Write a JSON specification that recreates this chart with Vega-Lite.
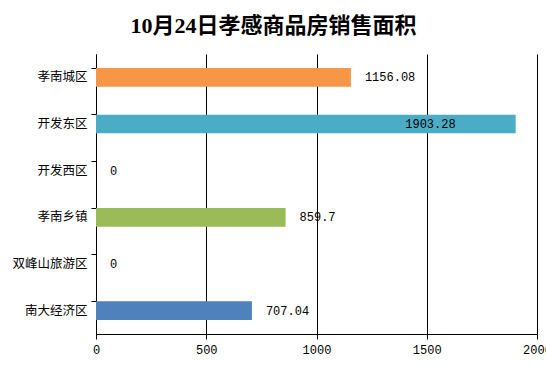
{
  "$schema": "https://vega.github.io/schema/vega-lite/v6.json",
  "autosize": "none",
  "padding": {"left": 96, "top": 54, "right": 9, "bottom": 35},
  "width": 441,
  "height": 280,
  "background": "white",
  "title": {
    "text": "10月24日孝感商品房销售面积",
    "font": "Liberation Serif, Noto Sans CJK SC",
    "fontSize": 22,
    "fontWeight": "bold",
    "color": "#000000",
    "anchor": "middle",
    "dx": -43,
    "offset": 16
  },
  "data": {
    "values": [
      {"区域": "孝南城区", "面积": 1156.08, "标签": "1156.08"},
      {"区域": "开发东区", "面积": 1903.28, "标签": "1903.28"},
      {"区域": "开发西区", "面积": 0, "标签": "0"},
      {"区域": "孝南乡镇", "面积": 859.7, "标签": "859.7"},
      {"区域": "双峰山旅游区", "面积": 0, "标签": "0"},
      {"区域": "南大经济区", "面积": 707.04, "标签": "707.04"}
    ]
  },
  "encoding": {
    "y": {
      "field": "区域",
      "type": "nominal",
      "sort": null,
      "scale": {"paddingInner": 0.6, "paddingOuter": 0.3},
      "axis": {
        "title": null,
        "bandPosition": 0,
        "domainColor": "#000000",
        "domainWidth": 1,
        "tickColor": "#000000",
        "tickSize": 5,
        "labelFont": "Noto Sans CJK SC",
        "labelFontSize": 12.5,
        "labelColor": "#000000",
        "labelPadding": 4
      }
    },
    "x": {
      "field": "面积",
      "type": "quantitative",
      "scale": {"domain": [0, 2000]},
      "axis": {
        "title": null,
        "values": [0, 500, 1000, 1500, 2000],
        "format": "d",
        "grid": true,
        "gridColor": "#000000",
        "gridOpacity": 1,
        "gridWidth": 1,
        "domainColor": "#000000",
        "tickColor": "#000000",
        "tickSize": 5,
        "labelFont": "Liberation Mono",
        "labelFontSize": 12,
        "labelColor": "#000000",
        "labelPadding": 5,
        "labelFlush": false
      }
    }
  },
  "layer": [
    {
      "mark": {"type": "bar"},
      "encoding": {
        "color": {
          "field": "区域",
          "type": "nominal",
          "legend": null,
          "scale": {
            "domain": ["孝南城区", "开发东区", "开发西区", "孝南乡镇", "双峰山旅游区", "南大经济区"],
            "range": ["#F79646", "#4BACC6", "#4BACC6", "#9BBB59", "#9BBB59", "#4F81BD"]
          }
        }
      }
    },
    {
      "transform": [{"filter": "datum['面积'] < 1800"}],
      "mark": {"type": "text", "align": "left", "dx": 14, "font": "Liberation Mono", "fontSize": 12, "color": "#000000"},
      "encoding": {"text": {"field": "标签"}}
    },
    {
      "transform": [{"filter": "datum['面积'] >= 1800"}],
      "mark": {"type": "text", "align": "right", "dx": -60, "font": "Liberation Mono", "fontSize": 12, "color": "#000000"},
      "encoding": {"text": {"field": "标签"}}
    }
  ],
  "config": {"view": {"stroke": null}}
}
